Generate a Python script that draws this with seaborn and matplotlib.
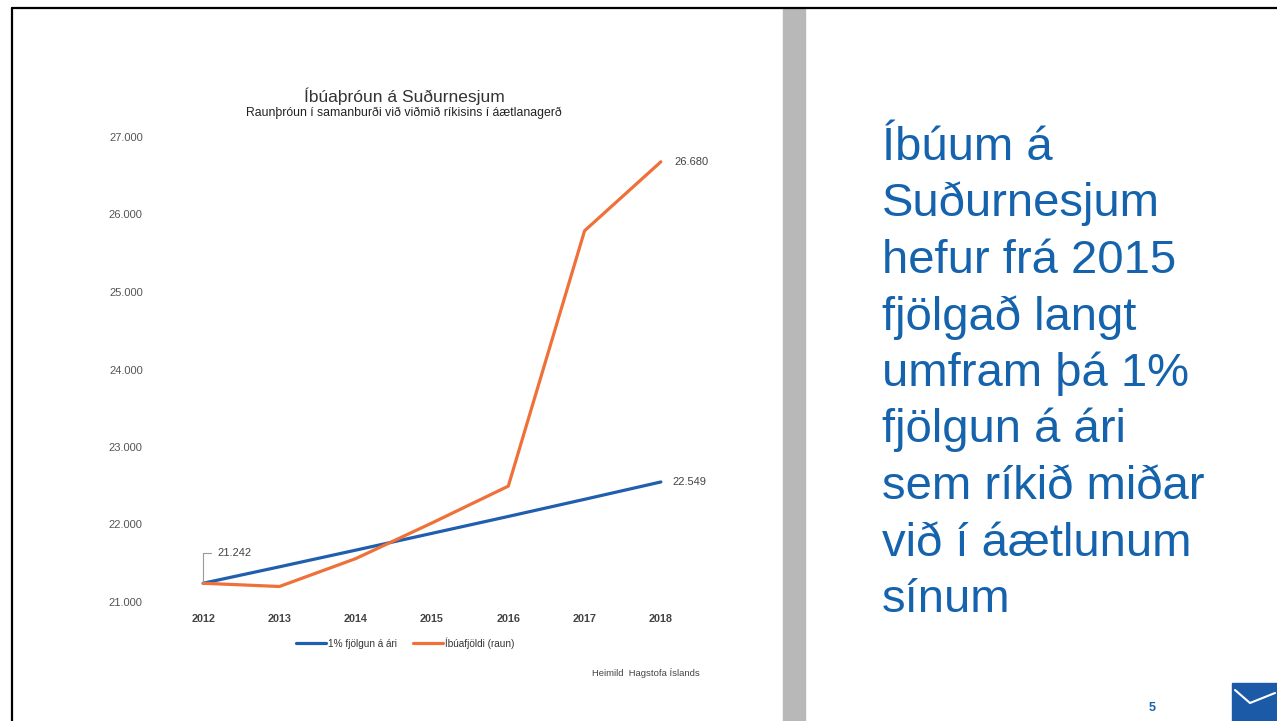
import pandas as pd
import seaborn as sns
import matplotlib.pyplot as plt
from matplotlib.patches import Rectangle
from matplotlib.lines import Line2D

# Données
years = [2012, 2013, 2014, 2015, 2016, 2017, 2018]
vidmid = [21242, 21454, 21669, 21886, 22104, 22325, 22549]   # 1% fjölgun á ári
raun = [21242, 21200, 21560, 22020, 22495, 25790, 26680]     # Íbúafjöldi (raun)
series_names = ["1% fjölgun á ári", "Íbúafjöldi (raun)"]
y_ticks = [21000, 22000, 23000, 24000, 25000, 26000, 27000]
y_labels = ["21.000", "22.000", "23.000", "24.000", "25.000", "26.000", "27.000"]

df = pd.DataFrame({
    "Ár": years * 2,
    "Íbúar": vidmid + raun,
    "Röð": [series_names[0]] * len(years) + [series_names[1]] * len(years),
})

sns.set_style("white")
plt.rcParams["font.family"] = ["Liberation Sans", "DejaVu Sans"]

W, H = 1277, 721
fig = plt.figure(figsize=(W / 100, H / 100), dpi=100)
fig.patch.set_facecolor("white")

def fx(x):
    return x / W

def fy(y):
    return 1 - y / H

# Línurit
ax = fig.add_axes([fx(165), fy(602), fx(699) - fx(165), fy(137) - fy(602)])
palette = {series_names[0]: "#1f5fae", series_names[1]: "#ef7039"}
sns.lineplot(data=df, x="Ár", y="Íbúar", hue="Röð", palette=palette,
             linewidth=2.3, ax=ax)
ax.set_xlim(2011.5, 2018.5)
ax.set_ylim(21000, 27000)
ax.set_xticks(years)
ax.set_xticklabels([str(y) for y in years], fontsize=7.8, color="#444444",
                   fontweight="bold")
ax.set_yticks(y_ticks)
ax.set_yticklabels(y_labels, fontsize=8, color="#555555")
ax.tick_params(axis="y", pad=16, length=0)
ax.tick_params(axis="x", pad=9, length=0)
ax.set_xlabel("")
ax.set_ylabel("")
for s in ax.spines.values():
    s.set_visible(False)
ax.patch.set_alpha(0)

# Gildismerki
ax.annotate("26.680", (years[-1], raun[-1]), xytext=(10, 0), textcoords="offset points",
            fontsize=8, color="#444444", va="center")
ax.annotate("22.549", (years[-1], vidmid[-1]), xytext=(8, 0), textcoords="offset points",
            fontsize=8, color="#444444", va="center")
ax.annotate("21.242", (years[0], vidmid[0]), xytext=(10, 22), textcoords="offset points",
            fontsize=8, color="#444444", va="center",
            arrowprops=dict(arrowstyle="-", color="#999999", lw=0.8,
                            connectionstyle="angle,angleA=0,angleB=90,rad=0",
                            shrinkA=2, shrinkB=0))

# Skýringar
sns.move_legend(ax, "center", bbox_to_anchor=(fx(405), fy(643)),
                bbox_transform=fig.transFigure, ncol=2, frameon=False, title=None,
                fontsize=7.2, handlelength=3.0, handletextpad=0.2, columnspacing=1.6)
for t in ax.get_legend().get_texts():
    t.set_color("#333333")

# Titlar
fig.text(fx(404), fy(96), "Íbúaþróun á Suðurnesjum", ha="center", va="center",
         fontsize=12.5, color="#333333")
fig.text(fx(404), fy(113), "Raunþróun í samanburði við viðmið ríkisins í áætlanagerð",
         ha="center", va="center", fontsize=8.8, color="#222222")
fig.text(fx(646), fy(673), "Heimild  Hagstofa Íslands", ha="center", va="center",
         fontsize=6.8, color="#444444")

# Texti hægra megin
lines = ["Íbúum á", "Suðurnesjum", "hefur frá 2015", "fjölgað langt",
         "umfram þá 1%", "fjölgun á ári", "sem ríkið miðar", "við í áætlunum",
         "sínum"]
for i, line in enumerate(lines):
    fig.text(fx(882), fy(160 + i * 56.5), line, ha="left", va="baseline",
             fontsize=34, color="#1563ac")

fig.text(fx(1152), fy(708), "5", ha="center", va="center", fontsize=9,
         color="#1563ac", fontweight="bold")

# Rammi og grá súla
fig.add_artist(Line2D([fx(12), fx(1277)], [fy(8), fy(8)], color="black", lw=1.6))
fig.add_artist(Line2D([fx(12), fx(12)], [fy(8), fy(721)], color="black", lw=1.6))
fig.add_artist(Rectangle((fx(783), 0), fx(805) - fx(783), fy(9), color="#b8b8b8",
                         transform=fig.transFigure))

# Merki
fig.add_artist(Rectangle((fx(1232), 0), fx(1277) - fx(1232), fy(683), color="#1a5aa6",
                         transform=fig.transFigure))
fig.add_artist(Line2D([fx(1235), fx(1250), fx(1275)], [fy(690), fy(703), fy(693)],
                      color="white", lw=1.5))

fig.savefig("out.png", dpi=100)
